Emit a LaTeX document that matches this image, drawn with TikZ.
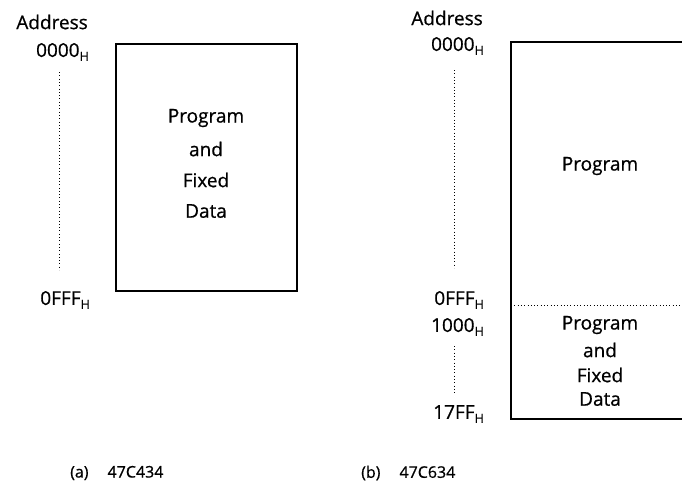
\documentclass[tikz,border=0pt]{standalone}
\usepackage{fontspec}
\setmainfont{Open Sans}[FakeBold=0.7]
\newcommand\hsubscr{\raisebox{-4pt}{\fontsize{12.5}{12.5}\selectfont H}}
\begin{document}
\begin{tikzpicture}[x=1pt,y=-1pt,
  lbl/.style={inner sep=0pt,font=\fontsize{19}{19}\selectfont},
  addr/.style={lbl,anchor=east},
  boxtext/.style={lbl,align=center},
  captxt/.style={inner sep=0pt,anchor=west,font=\fontsize{16}{16}\selectfont},
  boxline/.style={line width=1.4pt,line cap=rect},
  dots/.style={line width=0.9pt,dash pattern=on 0.9pt off 2.4pt}]
\clip (0,0) rectangle (682,491);
\fill[white] (0,0) rectangle (682,491);
% ---- (a) ----
\node[addr] (addrA) at (88,22) {Address};
\node[addr] (a0000) at (89,52) {0000\hsubscr};
\node[addr] (aFFF) at (90,300) {0FFF\hsubscr};
\coordinate (aT) at (59,72);
\coordinate (aB) at (59,270);
\draw[dots] (aT) -- (aB);
\coordinate (aTL) at (116,44);
\coordinate (aBR) at (297,291);
\draw[boxline] (aTL) rectangle (aBR);
\node[lbl] (aL1) at (206,118) {Program};
\node[lbl] (aL2) at (206,149) {and};
\node[lbl] (aL3) at (206,180) {Fixed};
\node[lbl] (aL4) at (206,211) {Data};
\node[captxt] (capA) at (70,473) {(a)\hspace{19pt}47C434};
% ---- (b) ----
\node[addr] (addrB) at (483,18) {Address};
\node[addr] (b0000) at (484,46) {0000\hsubscr};
\node[addr] (bFFF) at (484,300) {0FFF\hsubscr};
\node[addr] (b1000) at (484,327) {1000\hsubscr};
\node[addr] (b17FF) at (484,414) {17FF\hsubscr};
\coordinate (bT1) at (454,70);
\coordinate (bB1) at (454,268);
\coordinate (bT2) at (454,346);
\coordinate (bB2) at (454,394);
\draw[dots] (bT1) -- (bB1);
\draw[dots] (bT2) -- (bB2);
\coordinate (bTL) at (511,42);
\coordinate (bTR) at (700,42);
\coordinate (bBL) at (511,419);
\coordinate (bBR) at (700,419);
\draw[boxline] (bTR) -- (bTL) -- (bBL) -- (bBR);
\coordinate (bDL) at (511,305);
\coordinate (bDR) at (700,305);
\draw[dots] (bDL) -- (bDR);
\node[lbl] (bProg) at (600,166) {Program};
\node[lbl] (bL1) at (600,325) {Program};
\node[lbl] (bL2) at (600,350) {and};
\node[lbl] (bL3) at (600,375) {Fixed};
\node[lbl] (bL4) at (600,399) {Data};
\node[captxt] (capB) at (361,473) {(b)\hspace{19pt}47C634};
\end{tikzpicture}
\end{document}
